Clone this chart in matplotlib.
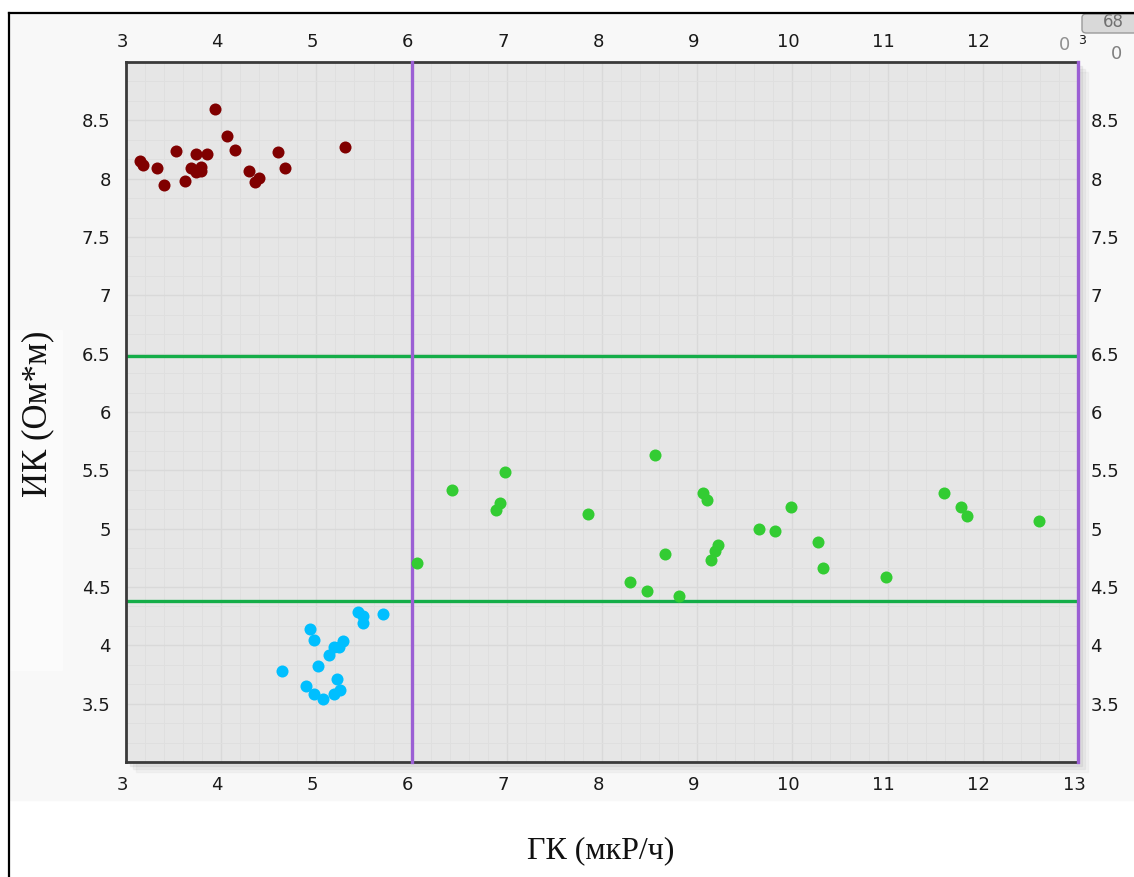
import matplotlib.pyplot as plt
import matplotlib.transforms as mtransforms
from matplotlib.patches import Rectangle, FancyBboxPatch
from matplotlib.ticker import MultipleLocator, FixedLocator
import numpy as np

# Данные: ГК (мкР/ч) и ИК (Ом*м)
red_x = [3.15, 3.18, 3.33, 3.40, 3.53, 3.62, 3.68, 3.74, 3.74, 3.79, 3.79,
         3.85, 3.94, 4.06, 4.14, 4.29, 4.35, 4.40, 4.60, 4.67, 5.30]
red_y = [8.15, 8.12, 8.09, 7.95, 8.24, 7.98, 8.09, 8.21, 8.06, 8.10, 8.07,
         8.21, 8.60, 8.37, 8.25, 8.07, 7.97, 8.01, 8.23, 8.09, 8.27]

blue_x = [4.64, 4.89, 4.93, 4.97, 4.98, 5.02, 5.07, 5.13, 5.18, 5.19, 5.22,
          5.24, 5.25, 5.28, 5.44, 5.49, 5.49, 5.70]
blue_y = [3.78, 3.65, 4.14, 4.05, 3.58, 3.82, 3.54, 3.92, 3.99, 3.58, 3.71,
          3.99, 3.62, 4.04, 4.29, 4.25, 4.19, 4.27]

green_x = [6.06, 6.42, 6.89, 6.93, 6.98, 7.85, 8.29, 8.47, 8.56, 8.66, 8.81,
           9.06, 9.10, 9.14, 9.19, 9.22, 9.65, 9.82, 9.99, 10.27, 10.32,
           10.98, 11.59, 11.77, 11.83, 12.59]
green_y = [4.71, 5.33, 5.16, 5.22, 5.49, 5.13, 4.54, 4.47, 5.63, 4.78, 4.42,
           5.31, 5.25, 4.73, 4.81, 4.86, 5.00, 4.98, 5.19, 4.89, 4.66,
           4.59, 5.31, 5.19, 5.11, 5.07]

# Граничные линии
gk_cut = [6.0, 13.0]
ik_cut = [6.48, 4.38]

x_ticks = [3, 4, 5, 6, 7, 8, 9, 10, 11, 12, 13]
y_ticks = [3.5, 4, 4.5, 5, 5.5, 6, 6.5, 7, 7.5, 8, 8.5]

W, H = 1134, 877
fig = plt.figure(figsize=(W / 100, H / 100), dpi=100, facecolor='white')

def fx(px):
    return px / W

def fy(py):
    return 1 - py / H

# фон окна и рамка
fig.patches.append(Rectangle((fx(10), fy(800)), fx(1124), fy(13) - fy(800),
                             transform=fig.transFigure, color='#f8f8f8', zorder=-3))
fig.patches.append(Rectangle((fx(10), fy(670)), fx(52), fy(330) - fy(670),
                             transform=fig.transFigure, color='#fbfbfb', zorder=-2))
fig.lines.append(plt.Line2D([fx(9), fx(9)], [0, fy(13)], transform=fig.transFigure,
                            color='black', lw=1.6))
fig.lines.append(plt.Line2D([fx(9), 1], [fy(13), fy(13)], transform=fig.transFigure,
                            color='black', lw=1.6))

# тень области построения
for off, a in [(10, 0.05), (7, 0.07), (4, 0.09)]:
    fig.patches.append(Rectangle((fx(126 + off), fy(762 + off)), fx(952), fy(62) - fy(762),
                                 transform=fig.transFigure, color='#707070', alpha=a,
                                 zorder=-1))

ax = fig.add_axes([fx(126), fy(762), fx(952), fy(62) - fy(762)])
ax.set_zorder(5)
ax.set_facecolor('#e6e6e6')
ax.set_xlim(3, 13)
ax.set_ylim(3, 9)

ax.xaxis.set_major_locator(FixedLocator(x_ticks))
ax.yaxis.set_major_locator(FixedLocator(y_ticks))
ax.xaxis.set_minor_locator(MultipleLocator(0.2))
ax.yaxis.set_minor_locator(MultipleLocator(1 / 6))
ax.grid(which='minor', color='#dfdfdf', lw=0.7)
ax.grid(which='major', color='#d9d9d9', lw=1.0)
ax.set_axisbelow(True)

ax.set_xticklabels([str(t) for t in x_ticks])
ax.set_yticklabels([('%g' % t) for t in y_ticks])
ax.tick_params(which='both', length=0)
ax.tick_params(axis='x', labelsize=13, labelcolor='#1a1a1a', top=True, labeltop=True,
               bottom=True, labelbottom=True, pad=10)
ax.tick_params(axis='x', which='major', pad=10)
ax.tick_params(axis='y', labelsize=13, labelcolor='#1a1a1a', left=True, labelleft=True,
               right=True, labelright=True, pad=11)

# подписи оси X немного сдвинуты влево, как в исходнике
shift = mtransforms.ScaledTranslation(-4 / 100, 0, fig.dpi_scale_trans)
shift_top = mtransforms.ScaledTranslation(-4 / 100, -3 / 100, fig.dpi_scale_trans)
for t in ax.xaxis.get_major_ticks():
    t.label1.set_transform(t.label1.get_transform() + shift)
    t.label2.set_transform(t.label2.get_transform() + shift_top)
    if t.label2.get_text() == '13':
        t.label2.set_visible(False)
for t in ax.yaxis.get_major_ticks():
    t.label2.set_transform(t.label2.get_transform()
                           + mtransforms.ScaledTranslation(-3 / 100, 0, fig.dpi_scale_trans))

for s in ['left', 'top', 'bottom']:
    ax.spines[s].set_color('#3a3a3a')
    ax.spines[s].set_linewidth(2)
ax.spines['right'].set_visible(False)

# линии границ
for y in ik_cut:
    ax.axhline(y, color='#14ad48', lw=2.4, zorder=2)
for x in gk_cut:
    ax.axvline(x, color='#9b5fd4', lw=2.4, zorder=3, clip_on=False)

ax.scatter(red_x, red_y, s=75, color='#800000', zorder=4, linewidths=0)
ax.scatter(blue_x, blue_y, s=75, color='#00bfff', zorder=4, linewidths=0)
ax.scatter(green_x, green_y, s=75, color='#33cc33', zorder=4, linewidths=0)

# подписи осей
fig.text(fx(601), fy(851), 'ГК (мкР/ч)', family='Liberation Serif', fontsize=23,
         ha='center', va='center', color='#111111')
fig.text(fx(38), fy(414), 'ИК (Ом*м)', family='Liberation Serif', fontsize=25,
         ha='center', va='center', rotation=90, color='#111111')

# элементы интерфейса в правом верхнем углу
fig.patches.append(FancyBboxPatch((fx(1082), fy(33)), fx(60), fy(14) - fy(33),
                                  boxstyle='round,pad=0,rounding_size=0.004',
                                  transform=fig.transFigure, facecolor='#d9d9d9',
                                  edgecolor='#9a9a9a', lw=1, zorder=1))
fig.text(fx(1113), fy(22), '68', fontsize=12, color='#707070', ha='center', va='center')
fig.text(fx(1117), fy(54), '0', fontsize=13, color='#808080', ha='center', va='center')
fig.text(fx(1065), fy(45), '0', fontsize=13, color='#909090', ha='center', va='center')
fig.text(fx(1082), fy(40), '3', fontsize=9, color='#1a1a1a', ha='center', va='center')

fig.savefig('out.png', dpi=100, facecolor=fig.get_facecolor())
